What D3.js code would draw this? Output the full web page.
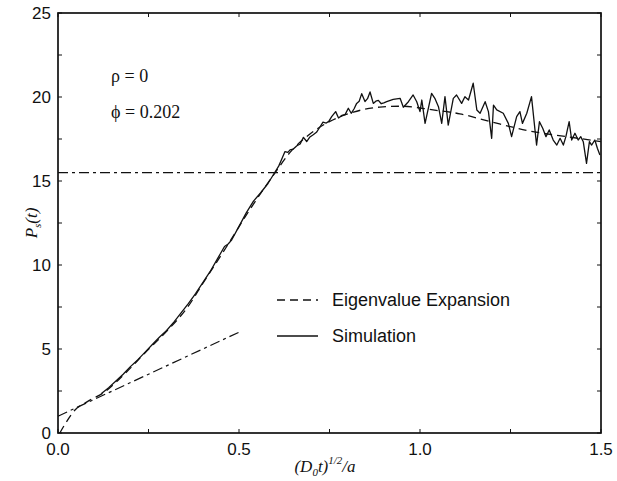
<!DOCTYPE html>
<html>
<head>
<meta charset="utf-8">
<script src="https://cdn.jsdelivr.net/npm/d3@7"></script>
<style>
  html, body { margin: 0; padding: 0; background: #fff; }
  svg { display: block; }
</style>
</head>
<body>
<svg id="chart" width="617" height="481"></svg>
<script>
// ---------- data ----------
const xTicks = [0.0, 0.5, 1.0, 1.5];
const xTickLabels = ["0.0", "0.5", "1.0", "1.5"];
const yTicks = [0, 5, 10, 15, 20, 25];
const yTickLabels = ["0", "5", "10", "15", "20", "25"];

const eigX = [0.005, 0.02, 0.047, 0.08, 0.13, 0.19, 0.24, 0.30, 0.36, 0.40, 0.466, 0.53, 0.60, 0.641, 0.696, 0.751, 0.816, 0.889, 0.95, 1.036, 1.11, 1.2, 1.312, 1.405, 1.5];
const eigY = [0.0, 0.55, 1.37, 1.85, 2.46, 3.65, 4.76, 6.05, 7.55, 8.9, 11.1, 13.3, 15.5, 16.7, 17.8, 18.55, 19.1, 19.4, 19.45, 19.23, 19.0, 18.5, 17.94, 17.64, 17.35];

const simX = [0.12, 0.14, 0.16, 0.18, 0.20, 0.22, 0.24, 0.26, 0.28, 0.30, 0.32, 0.34, 0.36, 0.38, 0.40, 0.42, 0.44, 0.46, 0.47, 0.48, 0.50, 0.52, 0.54, 0.56, 0.58, 0.60,
  0.61, 0.62, 0.627, 0.635, 0.641, 0.65, 0.66, 0.669, 0.678, 0.687, 0.695, 0.705, 0.714, 0.724, 0.732, 0.741, 0.748, 0.756, 0.767, 0.775, 0.784, 0.793, 0.802, 0.81, 0.818, 0.825, 0.832, 0.839, 0.848, 0.855, 0.862, 0.871, 0.878, 0.885, 0.893, 0.900,
  0.908, 0.926, 0.945, 0.954, 0.968, 0.981, 0.991, 1.0, 1.005, 1.014, 1.032, 1.041, 1.051, 1.06, 1.069, 1.078, 1.092, 1.101, 1.115, 1.124, 1.134, 1.147, 1.157, 1.166, 1.18, 1.189, 1.198,
  1.203, 1.212, 1.23, 1.244, 1.253, 1.267, 1.276, 1.283, 1.295, 1.308, 1.322, 1.33, 1.339, 1.348, 1.357, 1.368, 1.378, 1.387, 1.396, 1.403, 1.412, 1.419, 1.428, 1.437, 1.444, 1.451, 1.46, 1.468, 1.474, 1.483, 1.49, 1.497];
const simY = [2.35, 2.7, 3.1, 3.5, 3.95, 4.35, 4.8, 5.25, 5.7, 6.1, 6.6, 7.15, 7.7, 8.3, 8.95, 9.6, 10.35, 11.1, 11.25, 11.5, 12.3, 13.1, 13.8, 14.3, 14.85, 15.55,
  15.9, 16.4, 16.75, 16.7, 16.85, 16.9, 17.1, 17.2, 17.6, 17.35, 17.6, 17.75, 17.9, 18.23, 18.5, 18.45, 18.55, 18.83, 19.13, 18.75, 18.9, 18.95, 19.33, 19.03, 19.3, 19.62, 19.75, 20.2, 19.73, 19.9, 20.3, 19.62, 19.75, 19.8, 19.6, 19.65,
  19.72, 19.86, 19.92, 19.39, 19.72, 20.12, 19.72, 19.13, 19.82, 18.43, 20.22, 19.92, 19.42, 18.43, 20.02, 18.33, 19.92, 20.12, 19.62, 20.02, 19.82, 20.82, 19.23, 19.03, 19.72, 19.13, 17.54,
  19.52, 19.23, 19.03, 18.43, 17.64, 18.83, 19.13, 18.43, 19.03, 20.02, 17.14, 18.53, 18.14, 17.64, 18.04, 17.44, 17.14, 17.54, 17.14, 17.64, 18.53, 17.44, 17.84, 17.44, 17.64, 17.34, 16.05, 17.34, 17.14, 17.44, 16.95, 16.55];

const plateauY = 15.5;
const shortX = [0.0, 0.5];
const shortY = [1.0, 6.0];

const legendLabels = ["Eigenvalue Expansion", "Simulation"];
const annotations = ["ρ = 0", "ϕ = 0.202"];

// ---------- layout ----------
const svg = d3.select("#chart");
const L = 58, R = 601, T = 13, B = 433;
const x = d3.scaleLinear().domain([0, 1.5]).range([L, R]);
const y = d3.scaleLinear().domain([0, 25]).range([B, T]);

const ink = "#111";

// plot frame
svg.append("rect").attr("x", L).attr("y", T).attr("width", R - L).attr("height", B - T)
  .attr("fill", "none").attr("stroke", ink).attr("stroke-width", 1.7);

// ticks (inward) on all four sides
const minorX = d3.range(0, 1.5001, 0.25);
const minorY = d3.range(0, 25.001, 2.5);
const tl = 4;
const tg = svg.append("g").attr("stroke", ink).attr("stroke-width", 1);
minorX.forEach(v => {
  tg.append("line").attr("x1", x(v)).attr("x2", x(v)).attr("y1", B).attr("y2", B - tl);
  tg.append("line").attr("x1", x(v)).attr("x2", x(v)).attr("y1", T).attr("y2", T + tl);
});
minorY.forEach(v => {
  tg.append("line").attr("x1", L).attr("x2", L + tl).attr("y1", y(v)).attr("y2", y(v));
  tg.append("line").attr("x1", R).attr("x2", R - tl).attr("y1", y(v)).attr("y2", y(v));
});

// tick labels
const tickFont = "Liberation Sans, Arial, sans-serif";
svg.append("g").selectAll("text").data(xTicks).join("text")
  .attr("x", d => x(d)).attr("y", B + 22)
  .attr("text-anchor", "middle").attr("font-family", tickFont).attr("font-size", 17).attr("fill", ink)
  .text((d, i) => xTickLabels[i]);
svg.append("g").selectAll("text").data(yTicks).join("text")
  .attr("x", L - 7).attr("y", d => y(d) + 6)
  .attr("text-anchor", "end").attr("font-family", tickFont).attr("font-size", 17).attr("fill", ink)
  .text((d, i) => yTickLabels[i]);

// axis labels
const serif = "Liberation Serif, Times New Roman, serif";
const xl = svg.append("text").attr("x", 325).attr("y", 472).attr("text-anchor", "middle")
  .attr("font-family", serif).attr("font-style", "italic").attr("font-size", 17).attr("fill", ink);
xl.append("tspan").text("(D");
xl.append("tspan").attr("font-size", 11).attr("dy", 4).text("0");
xl.append("tspan").attr("dy", -4).text("t)");
xl.append("tspan").attr("font-size", 11).attr("dy", -8).text("1/2");
xl.append("tspan").attr("dy", 8).text("/a");

const yl = svg.append("text").attr("transform", "translate(37,223) rotate(-90)").attr("text-anchor", "middle")
  .attr("font-family", serif).attr("font-style", "italic").attr("font-size", 17).attr("fill", ink);
yl.append("tspan").text("P");
yl.append("tspan").attr("font-size", 11).attr("dy", 4).text("s");
yl.append("tspan").attr("dy", -4).text("(t)");

// annotations
svg.append("g").selectAll("text").data(annotations).join("text")
  .attr("x", 111).attr("y", (d, i) => 82 + i * 36)
  .attr("font-family", serif).attr("font-size", 18).attr("fill", ink)
  .text(d => d);

// lines
const dashDot = "10,4,3,4";
const line = d3.line().x(d => x(d[0])).y(d => y(d[1]));

svg.append("line").attr("x1", x(0)).attr("x2", x(1.5)).attr("y1", y(plateauY)).attr("y2", y(plateauY))
  .attr("stroke", ink).attr("stroke-width", 1.2).attr("stroke-dasharray", dashDot);

svg.append("path").datum(d3.zip(shortX, shortY)).attr("d", line)
  .attr("fill", "none").attr("stroke", ink).attr("stroke-width", 1.2).attr("stroke-dasharray", dashDot);

svg.append("path").datum(d3.zip(eigX, eigY))
  .attr("d", d3.line().x(d => x(d[0])).y(d => y(d[1])).curve(d3.curveMonotoneX))
  .attr("fill", "none").attr("stroke", ink).attr("stroke-width", 1.3).attr("stroke-dasharray", "8,5");

svg.append("path").datum(d3.zip(simX, simY)).attr("d", line)
  .attr("fill", "none").attr("stroke", ink).attr("stroke-width", 1.3).attr("stroke-linejoin", "round");

// legend
const lg = svg.append("g");
const legY = [300, 336];
lg.append("line").attr("x1", 277).attr("x2", 318).attr("y1", legY[0]).attr("y2", legY[0])
  .attr("stroke", ink).attr("stroke-width", 1.3).attr("stroke-dasharray", "8,5");
lg.append("line").attr("x1", 277).attr("x2", 318).attr("y1", legY[1]).attr("y2", legY[1])
  .attr("stroke", ink).attr("stroke-width", 1.3);
lg.selectAll("text").data(legendLabels).join("text")
  .attr("x", 332).attr("y", (d, i) => legY[i] + 6)
  .attr("font-family", tickFont).attr("font-size", 18).attr("fill", ink)
  .text(d => d);
</script>
</body>
</html>
